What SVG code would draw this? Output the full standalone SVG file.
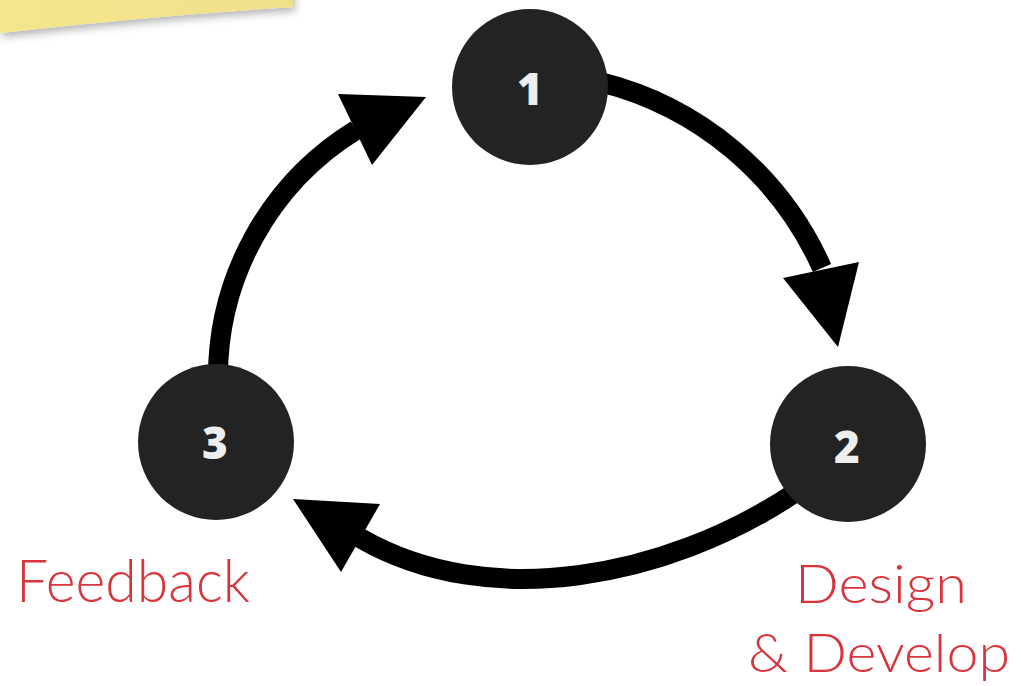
<svg xmlns="http://www.w3.org/2000/svg" width="1021" height="686" viewBox="0 0 1021 686">
  <style>
    .node { fill: #232323; }
    .num { font-family: "Open Sans", "DejaVu Sans", sans-serif; font-weight: 800; font-size: 44px; fill: #eeeeee; text-anchor: middle; }
    .shaft { fill: none; stroke: #000; stroke-width: 20; }
    .head { fill: #000; }
    .label { font-family: "Lato", "Open Sans", sans-serif; font-weight: 300; fill: #d9343c; }
  </style>
  <defs>
    <linearGradient id="note" x1="0" y1="0" x2="1" y2="0">
      <stop offset="0" stop-color="#f5e68e"/>
      <stop offset="1" stop-color="#efe08a"/>
    </linearGradient>
    <filter id="shadow" x="-20%" y="-50%" width="140%" height="250%">
      <feDropShadow dx="2" dy="4" stdDeviation="4" flood-color="#000" flood-opacity="0.3"/>
    </filter>
  </defs>
  <rect width="1021" height="686" fill="#ffffff"/>
  <path id="sticky-note" d="M0,-10 L293,-10 L293,7 Q150,16 0,33 Z" fill="url(#note)" filter="url(#shadow)"/>

  <g id="connectors">
    <path class="shaft" d="M600,82 A330,330 0 0 1 822,268"/>
    <polygon class="head" points="838,347 783,278 859,262"/>
    <path class="shaft" d="M218,380 A290,290 0 0 1 356,130"/>
    <polygon class="head" points="426,97 338,94 372,165"/>
    <path class="shaft" d="M793,494 C668,577 490,613 360,538"/>
    <polygon class="head" points="293,499 380,504 341,572"/>
  </g>

  <g id="node1">
    <circle class="node" cx="530" cy="87" r="78"/>
    <text class="num" x="530" y="105">1</text>
  </g>
  <g id="node2">
    <circle class="node" cx="848" cy="444" r="78"/>
    <text class="num" x="847" y="463">2</text>
  </g>
  <g id="node3">
    <circle class="node" cx="216" cy="442" r="78"/>
    <text class="num" x="215" y="459">3</text>
  </g>

  <g id="label-feedback">
    <text class="label" x="16" y="602" font-size="60" textLength="234" lengthAdjust="spacingAndGlyphs">Feedback</text>
  </g>
  <g id="label-design">
    <text class="label" x="795" y="603" font-size="53" textLength="172" lengthAdjust="spacingAndGlyphs">Design</text>
    <text class="label" x="748" y="672" font-size="53" textLength="262" lengthAdjust="spacingAndGlyphs">&amp; Develop</text>
  </g>
</svg>
